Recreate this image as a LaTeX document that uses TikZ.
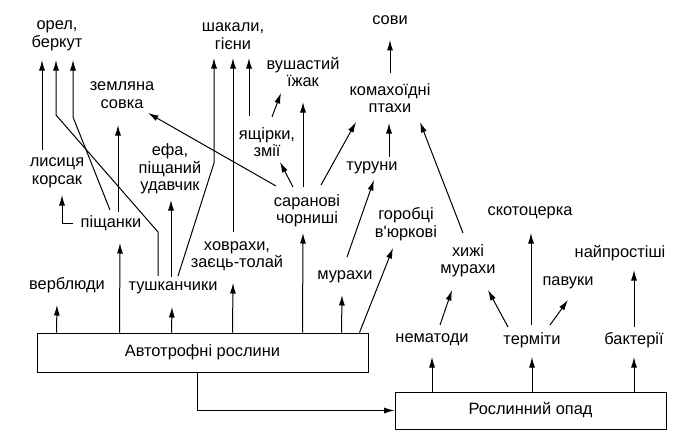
\documentclass[tikz,border=0pt]{standalone}
\usepackage{fontspec}
\setmainfont{Liberation Sans}
\usepackage{tikz}
\usetikzlibrary{arrows.meta, calc}
\tikzstyle{myBox} = [rectangle, draw, line width=1pt, text centered, inner sep=0pt, font=\fontsize{16.4}{17.5}\selectfont]
\tikzstyle{myLabel} = [align=center, inner sep=0pt, font=\fontsize{16.4}{17.5}\selectfont]
\tikzstyle{myArrow} = [line width=1pt, -{Latex[length=10.5pt,width=6pt]}]

\begin{document}
\begin{tikzpicture}[x=1pt,y=-1pt]
		\useasboundingbox (0,0) rectangle (692,444);
		% boxes
		\node [myBox,minimum width=331pt,minimum height=39pt](auto) at (202.5,352.5){Автотрофні рослини};
		\node [myBox,minimum width=271pt,minimum height=37pt](opad) at (530.5,410.5){Рослинний опад};
		% top row
		\node [myLabel](orel) at (57,36){орел,\\беркут};
		\node [myLabel](shakaly) at (233,36){шакали,\\гієни};
		\node [myLabel](sovy) at (390,20){сови};
		\node [myLabel](izhak) at (303,72){вушастий\\їжак};
		\node [myLabel](komakh) at (390,98){комахоїдні\\птахи};
		\node [myLabel](zemlyana) at (122,95){земляна\\совка};
		\node [myLabel](yashch) at (267,142){ящірки,\\змії};
		\node [myLabel](efa) at (170,169){ефа,\\піщаний\\удавчик};
		\node [myLabel](lysytsya) at (57,173){лисиця\\корсак};
		\node [myLabel](sarana) at (307,211){саранові\\чорниші};
		\node [myLabel](turuny) at (372,168){туруни};
		\node [myLabel](pishch) at (111,223){піщанки};
		\node [myLabel](gorobtsi) at (406,224){горобці\\в\textquotesingle юркові};
		\node [myLabel](skoto) at (530,213){скотоцерка};
		\node [myLabel](khovr) at (237,256){ховрахи,\\заєць-толай};
		\node [myLabel](khyzhi) at (468,261){хижі\\мурахи};
		\node [myLabel](naipr) at (620,253){найпростіші};
		\node [myLabel](verbl) at (67,285){верблюди};
		\node [myLabel](tushk) at (173,288){тушканчики};
		\node [myLabel](murakhy) at (345,277){мурахи};
		\node [myLabel](pavuky) at (568,283){павуки};
		\node [myLabel](nemat) at (432,340){нематоди};
		\node [myLabel](termity) at (532,340){терміти};
		\node [myLabel](bakter) at (634,340){бактерії};
		
		% from the plants
		\draw [myArrow] ($(auto.north west)+(20,0)$) -- ($(verbl)+(-10,20)$);
		\draw [myArrow] ($(auto.north west)+(83,0)$) -- ($(pishch)+(9,20)$);
		\draw [myArrow] ($(auto.north west)+(135,0)$) -- ($(tushk)+(-1,19)$);
		\draw [myArrow] ($(auto.north west)+(196,0)$) -- ($(khovr)+(-4,27)$);
		\draw [myArrow] ($(auto.north west)+(266,0)$) -- ($(sarana)+(-4,22)$);
		\draw [myArrow] ($(auto.north west)+(305,0)$) -- ($(murakhy)+(-3,18)$);
		\draw [myArrow] ($(auto.north west)+(323,0)$) -- ($(gorobtsi)+(-13,24)$);
		\draw [myArrow] ($(auto.south west)+(161,0)$) |- (opad.west);
		
		% from the litter
		\draw [myArrow] (opad.north -| nemat) -- ($(nemat)+(0,17)$);
		\draw [myArrow] (opad.north -| termity) -- ($(termity)+(0,17)$);
		\draw [myArrow] (opad.north -| bakter) -- ($(bakter)+(0,17)$);
		\draw [myArrow] ($(nemat)+(8,-15)$) -- ($(khyzhi)+(-16,29)$);
		\draw [myArrow] ($(termity)+(-24,-13)$) -- ($(khyzhi)+(20,29)$);
		\draw [myArrow] ($(termity)+(-1,-15)$) -- ($(skoto)+(1,20)$);
		\draw [myArrow] ($(termity)+(18,-15)$) -- ($(pavuky)+(0,17)$);
		\draw [myArrow] ($(bakter)+(0,-13)$) -- ($(naipr)+(14,17)$);
		\draw [myArrow] ($(khyzhi)+(-5,-28)$) -- ($(komakh)+(30,24)$);
		
		% insects and birds
		\draw [myArrow] ($(murakhy)+(2,-20)$) -- ($(turuny)+(2,12)$);
		\draw [myArrow] ($(turuny)+(17,-11)$) -- ($(komakh)+(-1,25)$);
		\draw [myArrow] ($(komakh)+(0,-25)$) -- ($(sovy)+(0,20)$);
		\draw [myArrow] ($(sarana)+(-31,-25)$) -- ($(zemlyana)+(26,18)$);
		\draw [myArrow] ($(sarana)+(-14,-24)$) -- ($(yashch)+(13,20)$);
		\draw [myArrow] ($(sarana)+(-4,-24)$) -- ($(izhak)+(0,30)$);
		\draw [myArrow] ($(sarana)+(14,-26)$) -- ($(komakh)+(-34,24)$);
		\draw [myArrow] ($(yashch)+(5,-25)$) -- ($(izhak)+(-22,21)$);
		\draw [myArrow] ($(yashch)+(-18,-26)$) -- ($(shakaly)+(16,22)$);
		\draw [myArrow] ($(khovr)+(-4,-24)$) -- ($(shakaly)+(0,22)$);
		
		% rodents and predators
		\draw [myArrow] ($(tushk)+(5,-12)$) -- ++(36,-113) -- ($(shakaly)+(-19,22)$);
		\draw [myArrow] ($(tushk)+(-2,-11)$) -- ($(efa)+(1,31)$);
		\draw [myArrow] ($(tushk)+(-15,-12)$) -- ++(0,-44) -- ++(-102,-117) -- ($(orel)+(-1,24)$);
		\draw [myArrow] ($(pishch)+(-1,-13)$) -- ++(-37,-93) -- ($(orel)+(16,24)$);
		\draw [myArrow] ($(pishch)+(7,-11)$) -- ($(zemlyana)+(-4,30)$);
		\draw [myArrow] ($(pishch)+(-38,0)$) -| ($(lysytsya)+(5,22)$);
		\draw [myArrow] ($(lysytsya)+(-15,-23)$) -- ($(orel)+(-15,24)$);
		
		\end{tikzpicture}
\end{document}
